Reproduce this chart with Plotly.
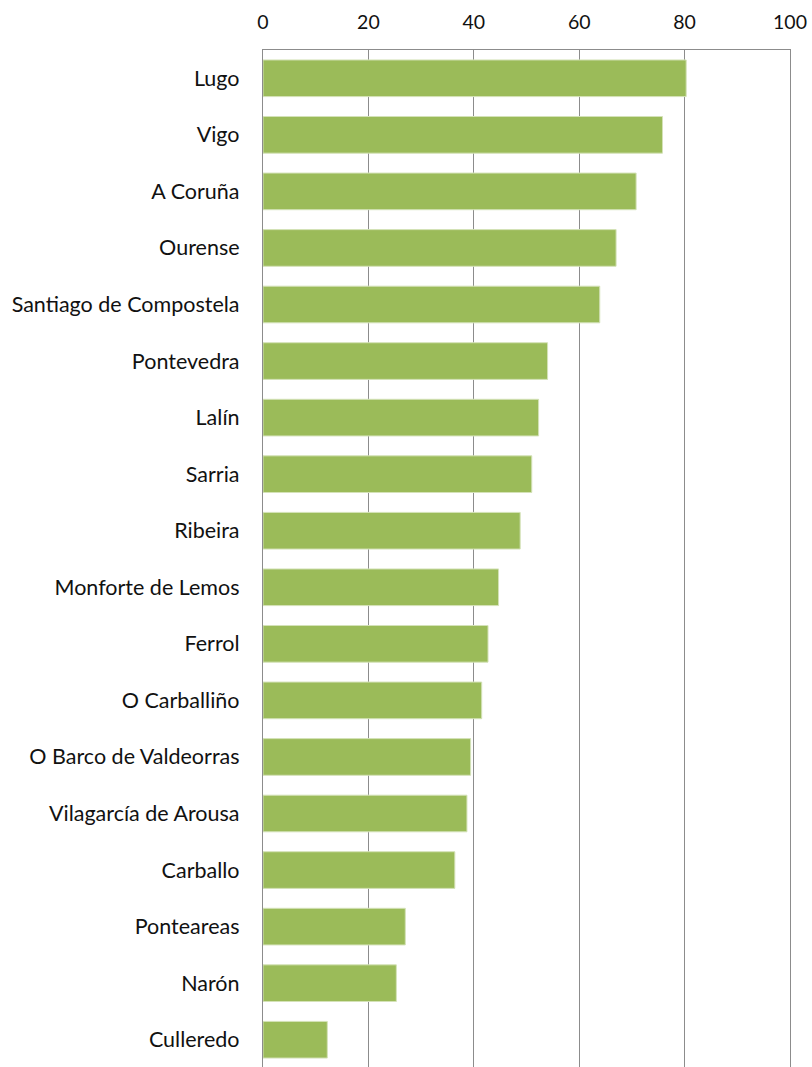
import plotly.graph_objects as go

cities = ["Lugo", "Vigo", "A Coruña", "Ourense", "Santiago de Compostela", "Pontevedra",
          "Lalín", "Sarria", "Ribeira", "Monforte de Lemos", "Ferrol", "O Carballiño",
          "O Barco de Valdeorras", "Vilagarcía de Arousa", "Carballo", "Ponteareas",
          "Narón", "Culleredo"]
values = [80.3, 75.8, 70.8, 67.0, 63.9, 54.0, 52.3, 51.0, 48.8, 44.7, 42.7, 41.5,
          39.4, 38.7, 36.4, 27.0, 25.3, 12.2]
x_ticks = [0, 20, 40, 60, 80, 100]

fig = go.Figure(go.Bar(
    x=values, y=cities, orientation="h",
    marker=dict(color="#9BBB59", line=dict(color="#d4e2b8", width=1)),
    hoverinfo="x+y",
))

fig.update_layout(
    width=812, height=1068,
    margin=dict(l=263, r=22, t=50, b=0),
    paper_bgcolor="white", plot_bgcolor="white",
    bargap=0.352,
    showlegend=False,
    font=dict(family="Lato, Carlito, Calibri, sans-serif", size=21.5, color="#111111"),
    xaxis=dict(
        side="top", range=[0, 100], tickvals=x_ticks, showgrid=True,
        gridcolor="#8c8c8c", gridwidth=1.3, zeroline=False,
        showline=True, linecolor="#8c8c8c", linewidth=1.3, mirror=True,
        ticks="", ticklabelstandoff=12, tickfont=dict(size=19.5),
        ticklabeloverflow="allow",
    ),
    yaxis=dict(
        autorange="reversed", categoryorder="array", categoryarray=cities,
        showline=True, linecolor="#8c8c8c", linewidth=1.3, mirror=True,
        ticks="", ticklabelstandoff=18, tickfont=dict(size=21.5),
        showgrid=False,
    ),
)

fig.write_html(
    "out.html",
    config={"displayModeBar": False},
    post_script="document.body.style.margin='0';document.body.style.overflow='hidden';",
)
